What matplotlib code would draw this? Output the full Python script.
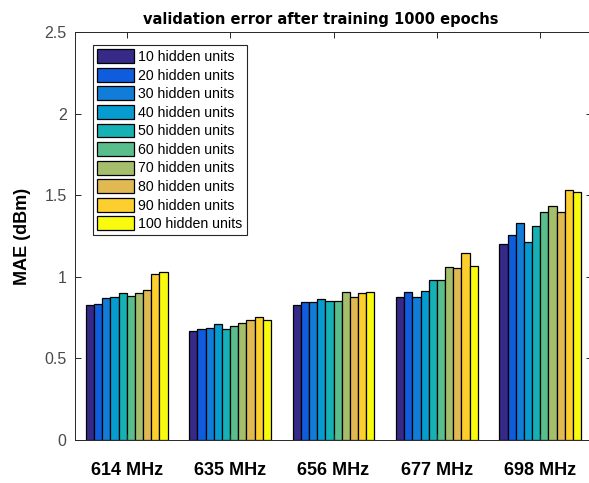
import numpy as np
import matplotlib.pyplot as plt

# validation MAE per carrier frequency, one series per hidden-layer size
freqs = ['614 MHz', '635 MHz', '656 MHz', '677 MHz', '698 MHz']
units = [10, 20, 30, 40, 50, 60, 70, 80, 90, 100]

mae = {
    10:  [0.827, 0.667, 0.829, 0.876, 1.200],
    20:  [0.835, 0.680, 0.847, 0.904, 1.257],
    30:  [0.869, 0.688, 0.845, 0.876, 1.331],
    40:  [0.878, 0.708, 0.863, 0.912, 1.214],
    50:  [0.900, 0.678, 0.853, 0.978, 1.309],
    60:  [0.884, 0.700, 0.853, 0.978, 1.396],
    70:  [0.900, 0.716, 0.906, 1.061, 1.433],
    80:  [0.920, 0.733, 0.878, 1.051, 1.396],
    90:  [1.016, 0.751, 0.900, 1.147, 1.529],
    100: [1.029, 0.737, 0.904, 1.065, 1.521],
}

# parula samples
colors = [
    (0.2081, 0.1663, 0.5292),
    (0.0591, 0.3598, 0.8683),
    (0.0723, 0.4887, 0.8467),
    (0.0265, 0.6137, 0.8135),
    (0.0843, 0.6928, 0.7062),
    (0.3482, 0.7424, 0.5473),
    (0.6473, 0.7456, 0.4188),
    (0.8824, 0.7274, 0.3217),
    (0.9880, 0.8066, 0.1794),
    (0.9763, 0.9831, 0.0538),
]

plt.rcParams['font.family'] = 'Liberation Sans'

fig = plt.figure(figsize=(5.89, 4.83), dpi=100)
ax = fig.add_axes([75 / 589, 43 / 483, 517 / 589, 408 / 483])

x = np.arange(1, len(freqs) + 1)
w = 0.079
n = len(units)
for i, (u, c) in enumerate(zip(units, colors)):
    off = (i - (n - 1) / 2) * w
    ax.bar(x + off, mae[u], width=w, color=c, edgecolor='black',
           linewidth=0.9, label=f'{u} hidden units')

ax.set_xlim(0.5, 5.5)
ax.set_ylim(0, 2.5)
ax.set_yticks([0, 0.5, 1, 1.5, 2, 2.5])
ax.set_yticklabels(['0', '0.5', '1', '1.5', '2', '2.5'])
ax.set_xticks(x)
ax.set_xticklabels(freqs, fontweight='bold', fontsize=13)

ax.tick_params(direction='in', top=True, right=True, length=4, width=0.7,
               color='#262626')
ax.tick_params(axis='y', labelsize=11.5, labelcolor='#4a4a4a', pad=6)
ax.tick_params(axis='x', pad=16)
for s in ax.spines.values():
    s.set_color('#262626')
    s.set_linewidth(0.7)

ax.set_ylabel('MAE (dBm)', fontweight='bold', fontsize=13, labelpad=10)
ax.set_title('validation error after training 1000 epochs',
             fontfamily='DejaVu Sans', fontweight='bold', fontsize=10.5,
             x=0.476, pad=6)

leg = ax.legend(loc='upper left', bbox_to_anchor=(0.0348, 0.968),
                borderaxespad=0, fontsize=10.2, fancybox=False,
                edgecolor='#262626', framealpha=1, handlelength=2.6,
                handleheight=1.13, handletextpad=0.3, labelspacing=0.27,
                borderpad=0.3)
leg.get_frame().set_linewidth(0.8)

plt.savefig('out.png', dpi=100)
